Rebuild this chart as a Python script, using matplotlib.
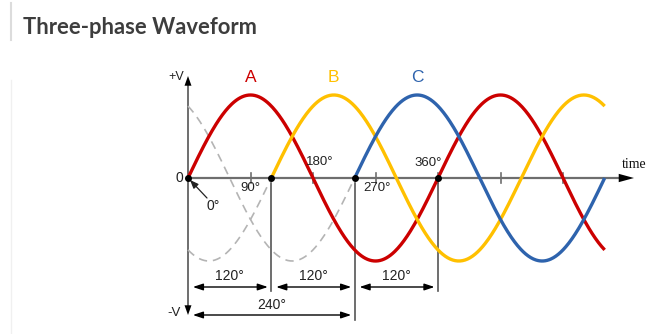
import numpy as np
import matplotlib.pyplot as plt

# phase data (degrees)
phase_names = ['A', 'B', 'C']
phase_shift = [0, 120, 240]
phase_colors = ['#cc0000', '#ffc000', '#2e63ad']
end_deg = 600
zero_points = [0, 120, 240, 360]
tick_degs = [90, 180, 270, 360, 450, 540]
spans = [(0, 120), (120, 240), (240, 360)]
span_labels = ['120°', '120°', '120°']
wide_span = (0, 240)
wide_label = '240°'

# pixel layout of the drawing
W, H = 647, 334
X0, Y0 = 188, 178          # origin in pixels
PX_DEG = 250 / 360         # pixels per degree
PX_V = 83                  # pixels per unit amplitude

fig = plt.figure(figsize=(W / 100, H / 100), dpi=100)
ax = fig.add_axes([0, 0, 1, 1])
ax.set_xlim(-X0 / PX_DEG, (W - X0) / PX_DEG)
ax.set_ylim(-(H - Y0) / PX_V, Y0 / PX_V)
ax.axis('off')


def px_x(px):
    return (px - X0) / PX_DEG


def px_y(py):
    return (Y0 - py) / PX_V


lab = dict(family='Liberation Sans', color='#222222')

# axes lines
ax.plot([0, px_x(622)], [0, 0], color='#6e6e6e', lw=1.6, zorder=1)
ax.annotate('', xy=(px_x(634), 0), xytext=(px_x(619), 0),
            arrowprops=dict(arrowstyle='-|>,head_length=1.1,head_width=0.3',
                            mutation_scale=10, color='black', lw=0,
                            shrinkA=0, shrinkB=0))
ax.plot([0, 0], [px_y(84), px_y(308)], color='#6e6e6e', lw=1.4, zorder=1)
ax.annotate('', xy=(0, px_y(76)), xytext=(0, px_y(86)),
            arrowprops=dict(arrowstyle='-|>,head_length=0.7,head_width=0.25',
                            mutation_scale=10, color='black', lw=0,
                            shrinkA=0, shrinkB=0))
ax.annotate('', xy=(0, px_y(315)), xytext=(0, px_y(305)),
            arrowprops=dict(arrowstyle='-|>,head_length=0.7,head_width=0.25',
                            mutation_scale=10, color='black', lw=0,
                            shrinkA=0, shrinkB=0))

# ticks on the time axis
for d in tick_degs:
    ax.plot([d, d], [px_y(173), px_y(183)], color='#6e6e6e', lw=1.2, zorder=1)

# dashed extensions of B and C back to 0 deg
for shift in phase_shift[1:]:
    t = np.linspace(0, shift, 200)
    ax.plot(t, np.sin(np.radians(t - shift)), color='#b4b4b4', lw=1.2,
            dashes=(5, 3.5), zorder=2)

# the three phases
for name, shift, col in zip(phase_names, phase_shift, phase_colors):
    t = np.linspace(shift, end_deg, 400)
    ax.plot(t, np.sin(np.radians(t - shift)), color=col, lw=2.4,
            solid_capstyle='butt', zorder=3)
    ax.text(shift + 90, px_y(78), name, color=col, fontsize=12.5,
            family='Liberation Sans', ha='center', va='center')

ax.plot(zero_points, np.zeros(len(zero_points)), 'o', color='black',
        ms=4, zorder=4)

# drop lines
for d, bottom in [(120, 291), (240, 320), (360, 291)]:
    ax.plot([d, d], [px_y(183), px_y(bottom)], color='#555555', lw=1.2, zorder=1)

# dimension arrows
gap = 5
for (a, b), s in zip(spans, span_labels):
    ax.annotate('', xy=(b - gap, px_y(287)), xytext=(a + gap + 2, px_y(287)),
                arrowprops=dict(arrowstyle='<|-|>,head_length=0.6,head_width=0.2',
                                mutation_scale=10, color='black', lw=1,
                                shrinkA=0, shrinkB=0))
    ax.text((a + b) / 2, px_y(276), s, fontsize=10, ha='center', va='center', **lab)
a, b = wide_span
ax.annotate('', xy=(b - gap, px_y(315)), xytext=(a + gap + 2, px_y(315)),
            arrowprops=dict(arrowstyle='<|-|>,head_length=0.6,head_width=0.2',
                            mutation_scale=10, color='black', lw=1,
                            shrinkA=0, shrinkB=0))
ax.text((a + b) / 2, px_y(305), wide_label, fontsize=10, ha='center', va='center', **lab)

# degree labels
ax.text(90, px_y(188), '90°', fontsize=9.5, ha='center', va='center', **lab)
ax.text(px_x(320), px_y(162), '180°', fontsize=9.5, ha='center', va='center', **lab)
ax.text(px_x(377), px_y(188), '270°', fontsize=9.5, ha='center', va='center', **lab)
ax.text(px_x(428), px_y(163), '360°', fontsize=9.5, ha='center', va='center', **lab)
ax.text(px_x(213), px_y(206), '0°', fontsize=10, ha='center', va='center', **lab)
ax.annotate('', xy=(px_x(190), px_y(180)), xytext=(px_x(207), px_y(198)),
            arrowprops=dict(arrowstyle='-|>,head_length=0.5,head_width=0.2',
                            mutation_scale=10, color='#222222', lw=0.9,
                            shrinkA=0, shrinkB=0))
ax.text(px_x(179), 0, '0', fontsize=10, ha='center', va='center', **lab)
ax.text(px_x(176), px_y(77), '+V', fontsize=9, ha='center', va='center', **lab)
ax.text(px_x(174), px_y(313), '-V', fontsize=9.5, ha='center', va='center', **lab)
ax.text(px_x(622), px_y(165), 'time', fontsize=10, family='Liberation Serif',
        ha='left', va='center', color='#111111')

# page decoration and title
fig.add_artist(plt.Line2D([10.5 / W, 10.5 / W], [1 - 3 / H, 1 - 40 / H],
                          color='#dcdcdc', lw=1.5))
fig.add_artist(plt.Line2D([10.5 / W, 10.5 / W], [1 - 80 / H, 0],
                          color='#f0f0f0', lw=1))
fig.text(23 / W, 1 - 27 / H, 'Three-phase Waveform', family='Lato',
         fontweight='bold', fontsize=15.8, color='#3d3d3d', ha='left', va='center')

fig.savefig('out.png', dpi=100)
